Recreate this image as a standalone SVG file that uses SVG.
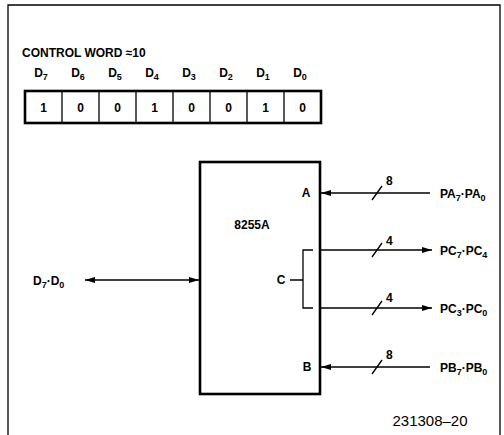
<svg xmlns="http://www.w3.org/2000/svg" width="504" height="435" viewBox="0 0 504 435">
<defs>
<style>
text{font-family:"Liberation Sans",Arial,sans-serif;font-weight:bold;fill:#000}
.lbl{font-size:12px}
.sub{font-size:9px}
.ln{stroke:#000;stroke-width:1.3;fill:none}
.thick{stroke:#000;stroke-width:2.6;fill:none}
</style>
<marker id="ah" viewBox="0 0 10 6" refX="10" refY="3" markerWidth="10" markerHeight="6" markerUnits="userSpaceOnUse" orient="auto-start-reverse">
<path d="M0,0 L10,3 L0,6 Z" fill="#000"/>
</marker>
</defs>
<rect width="504" height="435" fill="#fff"/>
<path class="ln" d="M8,436 V5 H500 V436" stroke-width="1.6"/>

<g id="control-word">
<text x="22" y="57" style="font-size:12px">CONTROL WORD ≈10</text>
<g class="lbl">
<text x="41" y="77" text-anchor="middle">D<tspan class="sub" dy="3">7</tspan></text>
<text x="78" y="77" text-anchor="middle">D<tspan class="sub" dy="3">6</tspan></text>
<text x="115" y="77" text-anchor="middle">D<tspan class="sub" dy="3">5</tspan></text>
<text x="152" y="77" text-anchor="middle">D<tspan class="sub" dy="3">4</tspan></text>
<text x="189" y="77" text-anchor="middle">D<tspan class="sub" dy="3">3</tspan></text>
<text x="226" y="77" text-anchor="middle">D<tspan class="sub" dy="3">2</tspan></text>
<text x="263" y="77" text-anchor="middle">D<tspan class="sub" dy="3">1</tspan></text>
<text x="300" y="77" text-anchor="middle">D<tspan class="sub" dy="3">0</tspan></text>
</g>
<rect x="25" y="91" width="296" height="32" class="thick"/>
<path class="ln" d="M62,91V123M99,91V123M136,91V123M173,91V123M210,91V123M247,91V123M284,91V123"/>
<g class="lbl" text-anchor="middle">
<text x="43.5" y="112">1</text>
<text x="80.5" y="112">0</text>
<text x="117.5" y="112">0</text>
<text x="154.5" y="112">1</text>
<text x="191.5" y="112">0</text>
<text x="228.5" y="112">0</text>
<text x="265.5" y="112">1</text>
<text x="302.5" y="112">0</text>
</g>
</g>

<g id="chip-8255A">
<rect x="200" y="162" width="120" height="232" class="thick"/>
<text x="252" y="229" text-anchor="middle" style="font-size:12px">8255A</text>
<text x="306" y="197" text-anchor="middle" class="lbl">A</text>
<text x="307" y="371" text-anchor="middle" class="lbl">B</text>
<text x="281" y="284" text-anchor="middle" class="lbl">C</text>
<path class="ln" d="M290,280H303M313,250H303V308H313" stroke-width="1"/>
</g>

<g id="port-labels" class="lbl">
<text x="440" y="198">PA<tspan class="sub" dy="3">7</tspan><tspan dy="-3">·PA</tspan><tspan class="sub" dy="3">0</tspan></text>
<text x="440" y="255">PC<tspan class="sub" dy="3">7</tspan><tspan dy="-3">·PC</tspan><tspan class="sub" dy="3">4</tspan></text>
<text x="440" y="313">PC<tspan class="sub" dy="3">3</tspan><tspan dy="-3">·PC</tspan><tspan class="sub" dy="3">0</tspan></text>
<text x="440" y="372">PB<tspan class="sub" dy="3">7</tspan><tspan dy="-3">·PB</tspan><tspan class="sub" dy="3">0</tspan></text>
<text x="33" y="285">D<tspan class="sub" dy="3">7</tspan><tspan dy="-3">·D</tspan><tspan class="sub" dy="3">0</tspan></text>
</g>

<g id="connectors">
<line class="ln" x1="430" y1="193" x2="321" y2="193" marker-end="url(#ah)"/>
<line class="ln" x1="321" y1="250" x2="432" y2="250" marker-end="url(#ah)"/>
<line class="ln" x1="321" y1="308" x2="432" y2="308" marker-end="url(#ah)"/>
<line class="ln" x1="430" y1="367" x2="321" y2="367" marker-end="url(#ah)"/>
<line class="ln" x1="85" y1="280" x2="199" y2="280" marker-start="url(#ah)" marker-end="url(#ah)"/>
<path class="ln" d="M372,200L382,186M372,257L382,243M372,315L382,301M372,374L382,360"/>
<g class="lbl">
<text x="386" y="185">8</text>
<text x="386" y="245">4</text>
<text x="386" y="302">4</text>
<text x="386" y="359">8</text>
</g>
</g>

<text x="430" y="426" text-anchor="middle" style="font-size:15px;font-weight:normal">231308–20</text>
</svg>
